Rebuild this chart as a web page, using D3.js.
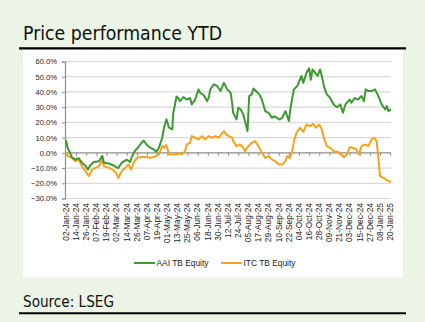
<!DOCTYPE html>
<html>
<head>
<meta charset="utf-8">
<script src="https://cdn.jsdelivr.net/npm/d3@7"></script>
<style>
  body { margin: 0; }
  svg { display: block; }
</style>
</head>
<body>
<div class="canvas"></div>
<script>
// AAI TB Equity, % change YTD
const aaiDates = [
  "2024-01-02","2024-01-04","2024-01-06","2024-01-09","2024-01-13","2024-01-17","2024-01-21","2024-01-25","2024-01-28","2024-01-31",
  "2024-02-04","2024-02-10","2024-02-14","2024-02-16","2024-02-22","2024-02-28","2024-03-04","2024-03-08","2024-03-14","2024-03-18",
  "2024-03-20","2024-03-24","2024-03-28","2024-04-01","2024-04-03","2024-04-07","2024-04-11","2024-04-15","2024-04-18","2024-04-21",
  "2024-04-25","2024-04-27","2024-04-30","2024-05-03","2024-05-07","2024-05-08","2024-05-12","2024-05-14","2024-05-16","2024-05-20",
  "2024-05-24","2024-05-28","2024-05-30","2024-06-03","2024-06-07","2024-06-09","2024-06-13","2024-06-17","2024-06-19","2024-06-21",
  "2024-06-25","2024-06-29","2024-07-03","2024-07-07","2024-07-11","2024-07-15","2024-07-17","2024-07-18","2024-07-22","2024-07-24",
  "2024-07-27","2024-07-30","2024-08-02","2024-08-04","2024-08-06","2024-08-09","2024-08-11","2024-08-14","2024-08-18","2024-08-21",
  "2024-08-25","2024-08-29","2024-09-02","2024-09-05","2024-09-08","2024-09-11","2024-09-14","2024-09-18","2024-09-22","2024-09-24",
  "2024-09-26","2024-09-28","2024-10-02","2024-10-05","2024-10-07","2024-10-09","2024-10-13","2024-10-16","2024-10-18","2024-10-20",
  "2024-10-23","2024-10-26","2024-10-29","2024-10-31","2024-11-03","2024-11-06","2024-11-10","2024-11-14","2024-11-18","2024-11-22",
  "2024-11-25","2024-11-28","2024-12-03","2024-12-05","2024-12-09","2024-12-13","2024-12-17","2024-12-20","2024-12-22","2024-12-25",
  "2024-12-29","2025-01-02","2025-01-06","2025-01-10","2025-01-14","2025-01-16","2025-01-18","2025-01-21"
];
const aaiValues = [
  8.5, 3, 1, -3, -4.5, -3.5, -6.5, -8.5, -11, -8,
  -6, -5.5, -2, -6.5, -7, -8.5, -10, -6.5, -4.5, -6,
  -2.5, 1.5, 4, 7, 8, 5, 3.3, 2.2, 0.7, 3.3,
  9.9, 16.5, 22, 16.5, 15.4, 26, 37, 36, 34, 36.6,
  35, 36, 31.8, 35, 41.7, 39.5, 38, 34, 36, 41.7,
  45, 43.9, 40.6, 46, 41.7, 39.5, 31.8, 26.3, 22, 29.6,
  28.5, 25.2, 18.6, 14.3, 37.3, 38.4, 42.3, 40.6, 38.4, 35,
  27.4, 26.3, 23, 24, 23, 21.9, 23, 27.4, 20.9, 29.6,
  36, 41.7, 43.9, 48, 50.5, 46, 52.7, 55.5, 48, 54.8,
  52.7, 50.5, 54.8, 50.5, 42.8, 38.4, 36, 31.8, 30, 31.8,
  26.3, 31.8, 35, 33, 36, 35, 37.3, 34, 41.7, 40.6,
  40.6, 41.7, 37.3, 31.8, 28.5, 30.7, 27.4, 28.5
];

// ITC TB Equity, % change YTD
const itcDates = [
  "2024-01-02","2024-01-04","2024-01-09","2024-01-13","2024-01-17","2024-01-21","2024-01-25","2024-01-29","2024-02-02","2024-02-06",
  "2024-02-10","2024-02-14","2024-02-16","2024-02-22","2024-02-26","2024-03-01","2024-03-04","2024-03-08","2024-03-12","2024-03-16",
  "2024-03-19","2024-03-22","2024-03-26","2024-04-01","2024-04-05","2024-04-11","2024-04-17","2024-04-21","2024-04-25","2024-04-27",
  "2024-04-30","2024-05-03","2024-05-07","2024-05-11","2024-05-14","2024-05-18","2024-05-22","2024-05-24","2024-05-28","2024-05-30",
  "2024-06-03","2024-06-07","2024-06-11","2024-06-15","2024-06-19","2024-06-23","2024-06-27","2024-07-01","2024-07-05","2024-07-07",
  "2024-07-10","2024-07-13","2024-07-17","2024-07-18","2024-07-22","2024-07-26","2024-07-30","2024-08-01","2024-08-05","2024-08-09",
  "2024-08-13","2024-08-17","2024-08-21","2024-08-25","2024-08-29","2024-09-02","2024-09-06","2024-09-10","2024-09-14","2024-09-18",
  "2024-09-20","2024-09-23","2024-09-26","2024-09-28","2024-10-01","2024-10-05","2024-10-09","2024-10-13","2024-10-17","2024-10-21",
  "2024-10-24","2024-10-28","2024-10-31","2024-11-03","2024-11-06","2024-11-10","2024-11-14","2024-11-18","2024-11-22","2024-11-26",
  "2024-11-30","2024-12-03","2024-12-07","2024-12-11","2024-12-14","2024-12-17","2024-12-21","2024-12-25","2024-12-29","2025-01-01",
  "2025-01-04","2025-01-06","2025-01-08","2025-01-12","2025-01-15","2025-01-18","2025-01-21"
];
const itcValues = [
  0.5, -2.2, -3.3, -5.5, -4.4, -8.8, -12, -15.3, -11, -9.9,
  -8.8, -4.4, -8.8, -9.9, -11, -13, -16.5, -12, -9.9, -7.7,
  -11, -6.6, -3.3, -2.8, -2.8, -3.3, -2.2, -1.1, 4.4, 3.3,
  5, -1.1, -1.1, -1.1, 0, -1.1, 1.1, 5.5, 6.6, 11,
  9.9, 8.8, 11, 8.8, 11, 9.9, 11, 9.9, 13, 14.3,
  12, 11, 9.9, 7.7, 4.4, 5.5, 3.3, 1.1, 4.4, 6.6,
  7.7, 4.4, 0, -3.3, -2.2, -4.4, -5.5, -7.7, -7.7, -5.5,
  -2.2, -3.3, 1.1, 7.7, 13, 16.5, 13.8, 18.6, 17.5, 19,
  16.5, 18.6, 15.4, 8.8, 4.4, 3.3, 1.1, 0.7, 0, -2.8,
  -1.1, 3.7, 3.3, 2.2, -1.1, 4.4, 5.5, 4.4, 8.8, 9.9,
  7.7, -3.3, -15.3, -16.5, -17.5, -18.6, -19
];

const yTicks = [-30, -20, -10, 0, 10, 20, 30, 40, 50, 60];
const xTickLabels = [
  "02-Jan-24","14-Jan-24","26-Jan-24","07-Feb-24","19-Feb-24","02-Mar-24","14-Mar-24","26-Mar-24","07-Apr-24",
  "19-Apr-24","01-May-24","13-May-24","25-May-24","06-Jun-24","18-Jun-24","30-Jun-24","12-Jul-24","24-Jul-24",
  "05-Aug-24","17-Aug-24","29-Aug-24","10-Sep-24","22-Sep-24","04-Oct-24","16-Oct-24","28-Oct-24","09-Nov-24",
  "21-Nov-24","03-Dec-24","15-Dec-24","27-Dec-24","08-Jan-25","20-Jan-25"
];
const seriesNames = ["AAI TB Equity", "ITC TB Equity"];
const seriesColors = ["#3d9a30", "#f7a21c"];

const parseIso = d3.timeParse("%Y-%m-%d");
const parseTick = d3.timeParse("%d-%b-%y");

const svg = d3.select('.canvas')
  .append('svg')
  .attr('width', 425)
  .attr('height', 322);

svg.append('rect')
  .attr('width', 425)
  .attr('height', 322)
  .attr('fill', '#ebf4e5');

// title + rules
svg.append('text')
  .attr('x', 23)
  .attr('y', 40)
  .attr('font-family', '"DejaVu Sans Condensed", "DejaVu Sans", sans-serif')
  .attr('font-size', 19)
  .attr('textLength', 199)
  .attr('lengthAdjust', 'spacingAndGlyphs')
  .attr('fill', '#111')
  .text('Price performance YTD');

svg.append('rect')
  .attr('x', 23)
  .attr('y', 49.5)
  .attr('width', 380)
  .attr('height', 228)
  .attr('fill', '#fff');

svg.append('line')
  .attr('x1', 19).attr('x2', 406)
  .attr('y1', 48.3).attr('y2', 48.3)
  .attr('stroke', '#000')
  .attr('stroke-width', 2.2);

svg.append('text')
  .attr('x', 23)
  .attr('y', 307)
  .attr('font-family', '"DejaVu Sans Condensed", "DejaVu Sans", sans-serif')
  .attr('font-size', 15)
  .attr('textLength', 91)
  .attr('lengthAdjust', 'spacingAndGlyphs')
  .attr('fill', '#111')
  .text('Source: LSEG');

svg.append('line')
  .attr('x1', 19).attr('x2', 406)
  .attr('y1', 313.2).attr('y2', 313.2)
  .attr('stroke', '#000')
  .attr('stroke-width', 2);

// scales
const x = d3.scaleTime()
  .domain([parseIso("2024-01-02"), parseIso("2025-01-21")])
  .range([66, 391]);

const y = d3.scaleLinear()
  .domain([-30, 60])
  .range([198.5, 61.5]);

const labelFont = '"Liberation Sans Narrow", "Arial Narrow", "Liberation Sans", sans-serif';

// gridlines
svg.append('g')
  .selectAll('line')
  .data(yTicks.filter(t => t !== 0))
  .join('line')
  .attr('x1', 65)
  .attr('x2', 391)
  .attr('y1', d => y(d))
  .attr('y2', d => y(d))
  .attr('stroke', '#d9d9d9')
  .attr('stroke-width', 1.2);

// y axis
const yAxis = svg.append('g')
  .attr('transform', 'translate(65,0)')
  .call(d3.axisLeft(y)
    .tickValues(yTicks)
    .tickSize(3)
    .tickPadding(5)
    .tickFormat(d => d3.format('.1f')(d) + '%'));
yAxis.select('.domain').attr('stroke', '#8c8c8c').attr('stroke-width', 1.2);
yAxis.selectAll('.tick line').attr('stroke', '#8c8c8c');
yAxis.selectAll('.tick text')
  .attr('font-family', labelFont)
  .attr('font-size', 7.6)
  .attr('fill', '#222');

// x axis line at 0% with tick marks
const xAxis = svg.append('g')
  .attr('transform', `translate(0,${y(0)})`)
  .call(d3.axisBottom(x)
    .tickValues(xTickLabels.map(parseTick))
    .tickSize(3)
    .tickFormat(''));
xAxis.select('.domain').attr('stroke', '#8c8c8c').attr('stroke-width', 1.2).attr('d', `M65,0H391`);
xAxis.selectAll('.tick line').attr('stroke', '#8c8c8c');

// x labels at the bottom, rotated
svg.append('g')
  .selectAll('text')
  .data(xTickLabels)
  .join('text')
  .attr('transform', d => `translate(${x(parseTick(d))},203) rotate(-90)`)
  .attr('text-anchor', 'end')
  .attr('dy', '0.33em')
  .attr('font-family', labelFont)
  .attr('font-size', 8.4)
  .attr('fill', '#222')
  .text(d => d);

// series lines
const line = d3.line()
  .x(d => x(d[0]))
  .y(d => y(d[1]));

const aaiData = aaiDates.map((d, i) => [parseIso(d), aaiValues[i]]);
const itcData = itcDates.map((d, i) => [parseIso(d), itcValues[i]]);

svg.append('path')
  .datum(itcData)
  .attr('d', line)
  .attr('fill', 'none')
  .attr('stroke', seriesColors[1])
  .attr('stroke-width', 2)
  .attr('stroke-linejoin', 'round');

svg.append('path')
  .datum(aaiData)
  .attr('d', line)
  .attr('fill', 'none')
  .attr('stroke', seriesColors[0])
  .attr('stroke-width', 2)
  .attr('stroke-linejoin', 'round');

// legend
const legendX = [134, 221];
const legend = svg.append('g')
  .selectAll('g')
  .data(seriesNames)
  .join('g')
  .attr('transform', (d, i) => `translate(${legendX[i]},263)`);
legend.append('line')
  .attr('x1', 0).attr('x2', 21)
  .attr('stroke', (d, i) => seriesColors[i])
  .attr('stroke-width', 2);
legend.append('text')
  .attr('x', 22.5)
  .attr('dy', '0.33em')
  .attr('font-family', labelFont)
  .attr('font-size', 8.4)
  .attr('fill', '#222')
  .text(d => d);
</script>
</body>
</html>
